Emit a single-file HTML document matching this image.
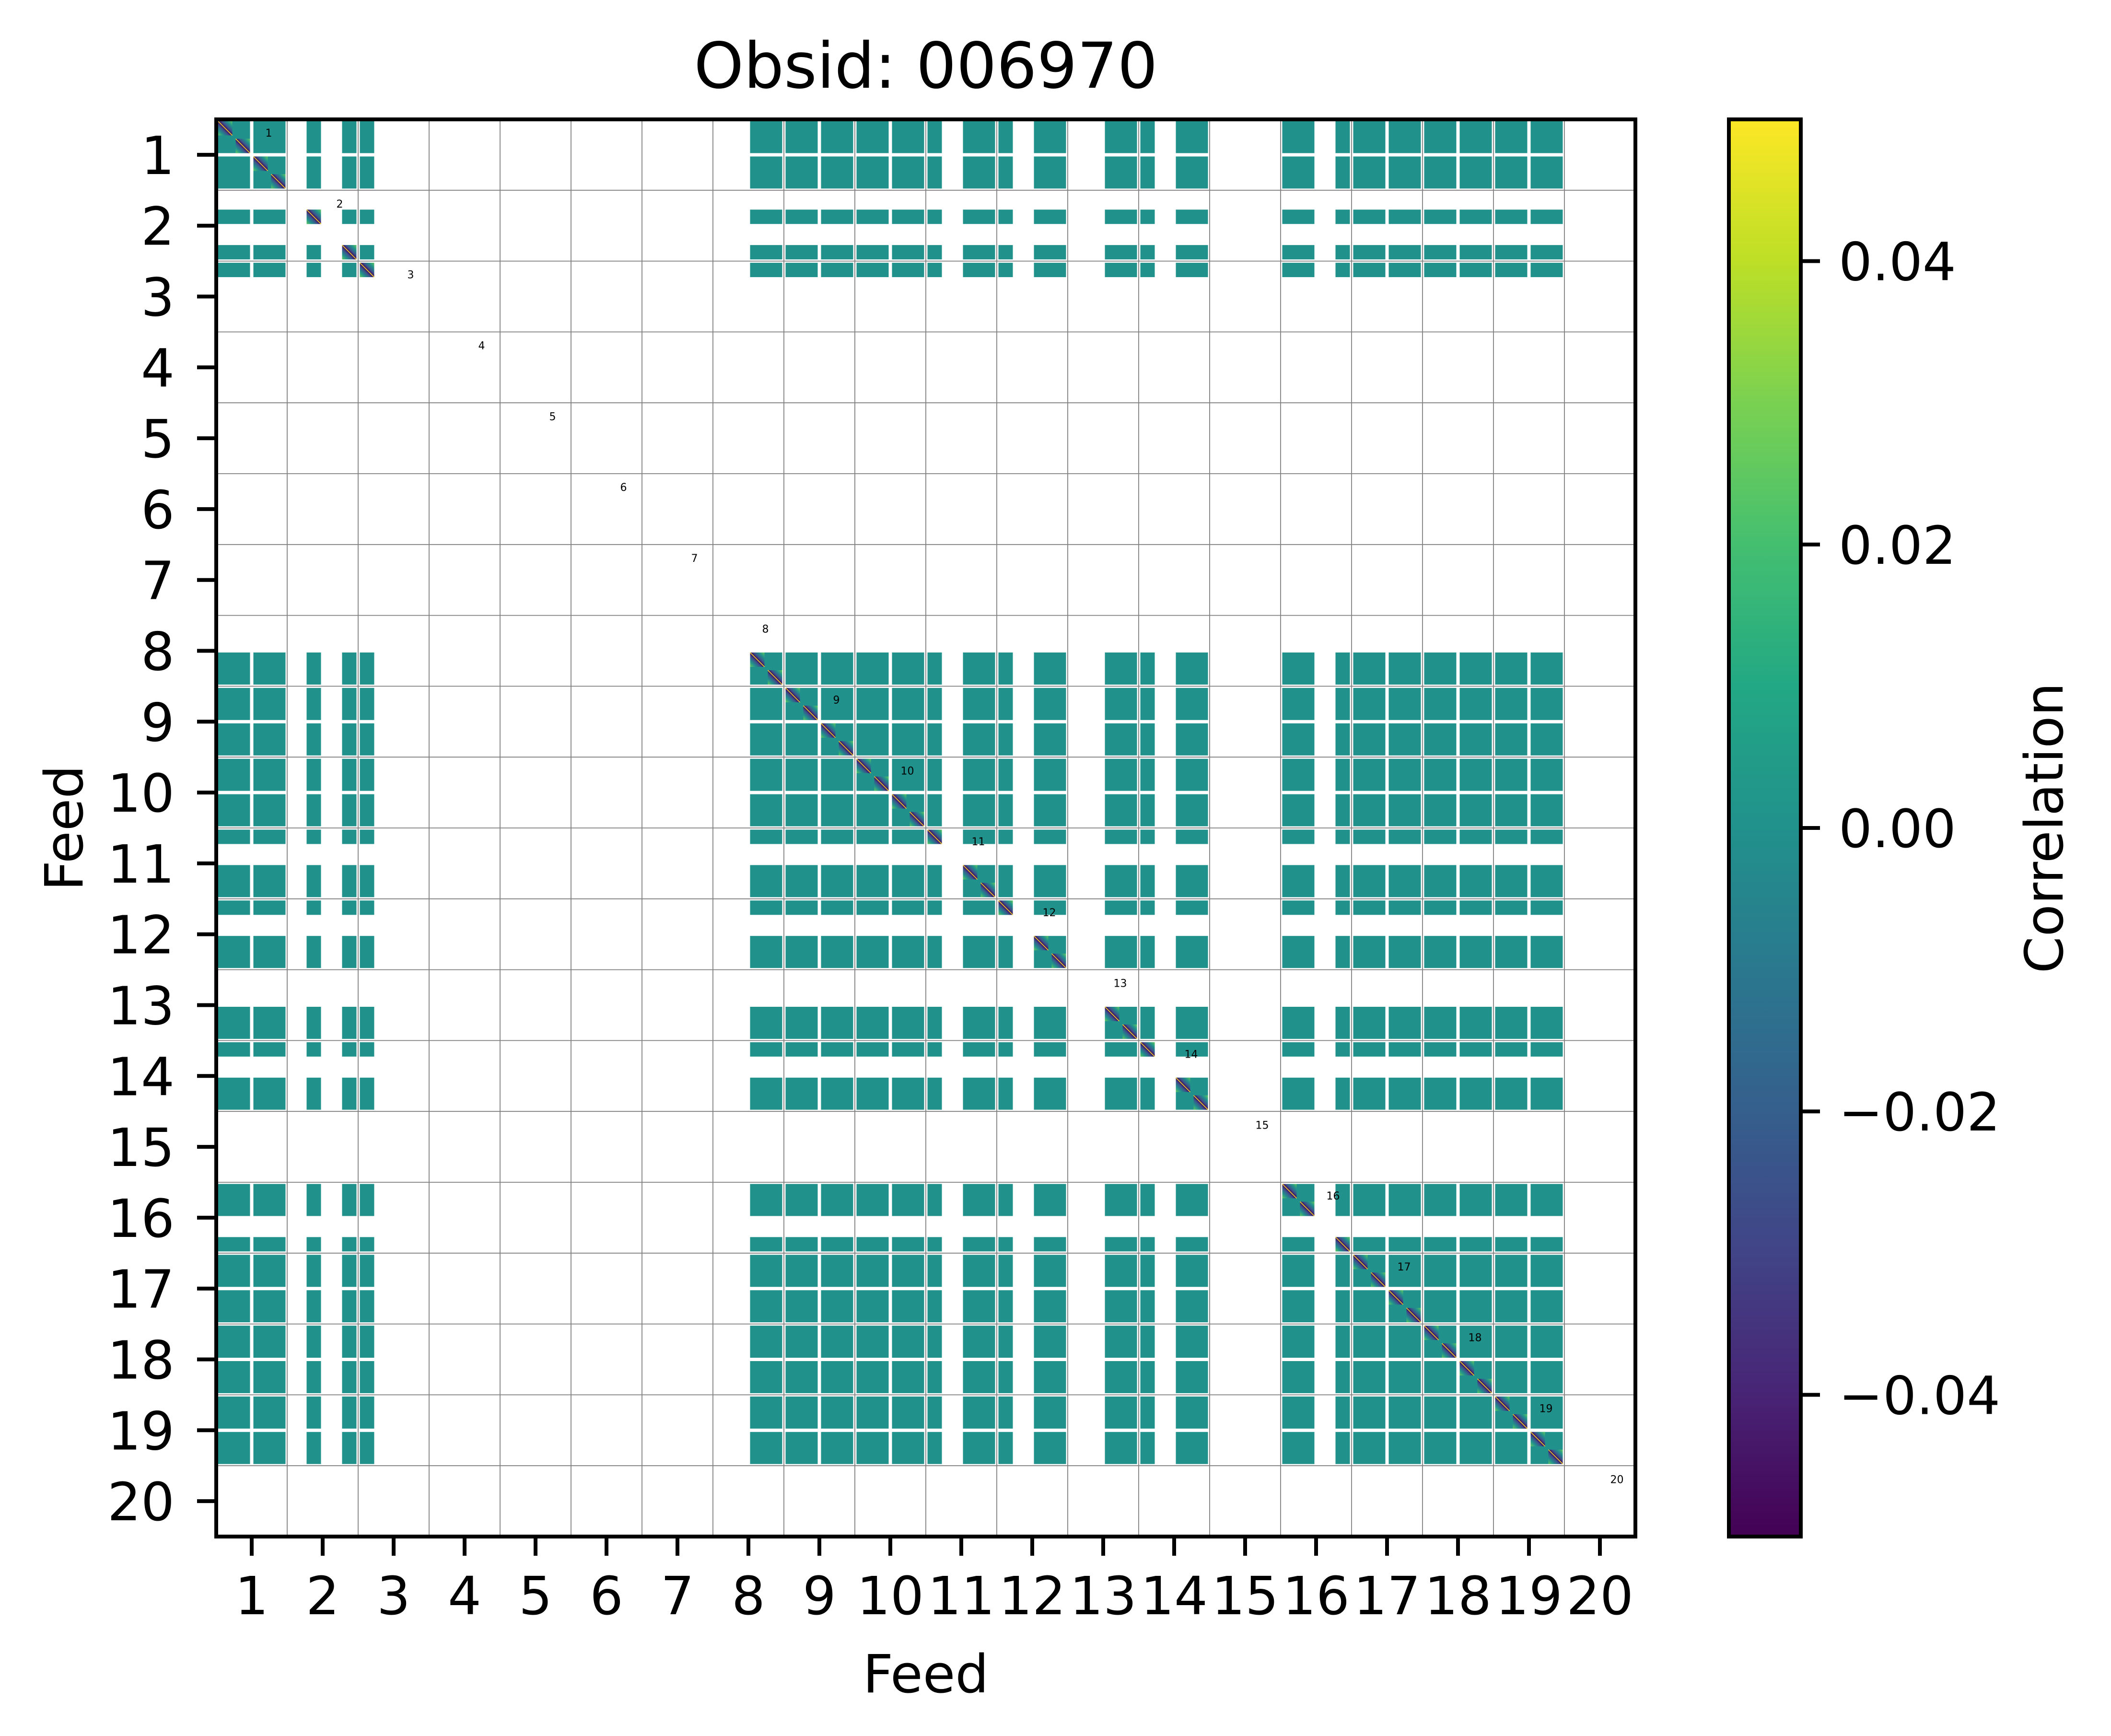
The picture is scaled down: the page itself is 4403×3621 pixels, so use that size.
<!DOCTYPE html>
<html><head><meta charset="utf-8">
<style>
html,body{margin:0;padding:0;background:#fff;}
svg{display:block;}
text{font-family:"DejaVu Sans","Liberation Sans",sans-serif;fill:#000;}
</style></head>
<body>
<svg id="chart" xmlns="http://www.w3.org/2000/svg" width="4403" height="3621" viewBox="0 0 4403 3621">
<defs>
<linearGradient id="viridis" x1="0" y1="1" x2="0" y2="0">
<stop offset="0" stop-color="#440154"/><stop offset="0.1" stop-color="#482475"/><stop offset="0.2" stop-color="#414487"/>
<stop offset="0.3" stop-color="#355f8d"/><stop offset="0.4" stop-color="#2a788e"/><stop offset="0.5" stop-color="#21918c"/>
<stop offset="0.6" stop-color="#22a884"/><stop offset="0.7" stop-color="#44bf70"/><stop offset="0.8" stop-color="#7ad151"/>
<stop offset="0.9" stop-color="#bddf26"/><stop offset="1" stop-color="#fde725"/>
</linearGradient>
<linearGradient id="diagGrad" x1="1" y1="0" x2="0" y2="1">
<stop offset="0" stop-color="#5ec962"/><stop offset="0.2" stop-color="#21918c"/><stop offset="0.38" stop-color="#3b528b"/>
<stop offset="0.5" stop-color="#440154"/><stop offset="0.62" stop-color="#3b528b"/><stop offset="0.8" stop-color="#21918c"/>
<stop offset="1" stop-color="#5ec962"/>
</linearGradient>
</defs>
<text x="1931" y="183" font-size="132" text-anchor="middle">Obsid: 006970</text>
<g id="cells"></g>
<g id="grid"></g>
<g id="labels"></g>
<rect x="451" y="249" width="2960" height="2956" fill="none" stroke="#000" stroke-width="8"/>
<g id="axes"></g>
<text x="1931" y="3530" font-size="110" text-anchor="middle">Feed</text>
<text transform="translate(172,1727) rotate(-90)" font-size="110" text-anchor="middle">Feed</text>
<rect x="3606" y="249" width="150" height="2956" fill="url(#viridis)" stroke="#000" stroke-width="8"/>
<g id="cbar"></g>
<text transform="translate(4302,1727) rotate(-90)" font-size="110" text-anchor="middle">Correlation</text>
</svg>
<script>
// ---- data ----
const feeds = [1,2,3,4,5,6,7,8,9,10,11,12,13,14,15,16,17,18,19,20];
// active sideband quarters (0..3) per feed
const activeQuarters = [[0,1,2,3],[1,3],[0],[],[],[],[],[2,3],[0,1,2,3],[0,1,2,3],[0,2,3],[0,2,3],[2,3],[0,2,3],[],[0,1,3],[0,1,2,3],[0,1,2,3],[0,1,2,3],[]];
const offDiagValue = [0.0];
const cbarTicks = [-0.04,-0.02,0.0,0.02,0.04];
const cbarTickLabels = ["\u22120.04","\u22120.02","0.00","0.02","0.04"];
const vmin = -0.05, vmax = 0.05;

const NS = "http://www.w3.org/2000/svg";
const X0 = 451, X1 = 3411, Y0 = 249, Y1 = 3205;
const nF = feeds.length;
const xs = f => X0 + (f - 1) * (X1 - X0) / nF;
const ys = f => Y0 + (f - 1) * (Y1 - Y0) / nF;
const CB0 = 249, CB1 = 3205;
const cy = v => CB1 - (v - vmin) / (vmax - vmin) * (CB1 - CB0);
const vir = ["#440154","#482475","#414487","#355f8d","#2a788e","#21918c","#22a884","#44bf70","#7ad151","#bddf26","#fde725"];
function colorOf(v){ let t=(v-vmin)/(vmax-vmin); t=Math.max(0,Math.min(1,t)); return vir[Math.round(t*10)]; }
function mk(tag, attrs, parent){ const e=document.createElementNS(NS,tag); for(const k in attrs) e.setAttribute(k,attrs[k]); parent.appendChild(e); return e; }

// runs of contiguous quarters within each half of a feed
function runsOf(qs){
  const runs=[]; let cur=null;
  qs.forEach(q=>{
    if(cur && q===cur[1]+1 && Math.floor(q/2)===Math.floor(cur[0]/2)) cur[1]=q;
    else { cur=[q,q]; runs.push(cur); }
  });
  return runs;
}
const cells = document.getElementById('cells');
const inset = 3.5;
feeds.forEach((fi, i) => {
  runsOf(activeQuarters[i]).forEach(ri => {
    feeds.forEach((fj, j) => {
      runsOf(activeQuarters[j]).forEach(rj => {
        const x = xs(fj + rj[0]*0.25) + inset, x2 = xs(fj + (rj[1]+1)*0.25) - inset;
        const y = ys(fi + ri[0]*0.25) + inset, y2 = ys(fi + (ri[1]+1)*0.25) - inset;
        const r = mk('rect', {x:x, y:y, width:x2-x, height:y2-y, fill: colorOf(offDiagValue[0])}, cells);
        
        
      });
    });
  });
  activeQuarters[i].forEach(q => {
    const x = xs(fi + q*0.25) + inset, x2 = xs(fi + (q+1)*0.25) - inset;
    const y = ys(fi + q*0.25) + inset, y2 = ys(fi + (q+1)*0.25) - inset;
    const d = mk('rect', {x:x, y:y, width:x2-x, height:y2-y, fill:'url(#diagGrad)'}, cells);
    
    
    const l = mk('line', {x1:x, y1:y, x2:x2, y2:y2, stroke:'#fde725', 'stroke-width':1.5}, cells);
    
    
  });
});

const grid = document.getElementById('grid');
for (let k = 1; k < nF; k++) {
  const gx = mk('line', {x1:xs(k+1), y1:Y0, x2:xs(k+1), y2:Y1, stroke:'#808080', 'stroke-width':1.8}, grid);
  
  
  const gy = mk('line', {x1:X0, y1:ys(k+1), x2:X1, y2:ys(k+1), stroke:'#808080', 'stroke-width':1.8}, grid);
  
  
}

const labels = document.getElementById('labels');
feeds.forEach(f => {
  const t = mk('text', {x:xs(f+0.74), y:ys(f+0.19)+8, 'font-size':22, 'text-anchor':'middle'}, labels);
  t.textContent = String(f);
  
  
});

const axes = document.getElementById('axes');
feeds.forEach(f => {
  const cx = xs(f + 0.5), cyy = ys(f + 0.5);
  const tx = mk('line', {x1:cx, y1:Y1+4, x2:cx, y2:Y1+40, stroke:'#000', 'stroke-width':8}, axes);
  
  
  const lx = mk('text', {x:cx, y:3367, 'font-size':110, 'text-anchor':'middle'}, axes);
  lx.textContent = String(f);
  
  
  const ty = mk('line', {x1:X0-40, y1:cyy, x2:X0-4, y2:cyy, stroke:'#000', 'stroke-width':8}, axes);
  
  
  const ly = mk('text', {x:364, y:cyy+40, 'font-size':110, 'text-anchor':'end'}, axes);
  ly.textContent = String(f);
  
  
});

const cbar = document.getElementById('cbar');
cbarTicks.forEach((v, i) => {
  const y = cy(v);
  const t = mk('line', {x1:3760, y1:y, x2:3796, y2:y, stroke:'#000', 'stroke-width':8}, cbar);
  
  
  const l = mk('text', {x:3835, y:y+40, 'font-size':110}, cbar);
  l.textContent = cbarTickLabels[i];
  
  
});
</script>
</body></html>
